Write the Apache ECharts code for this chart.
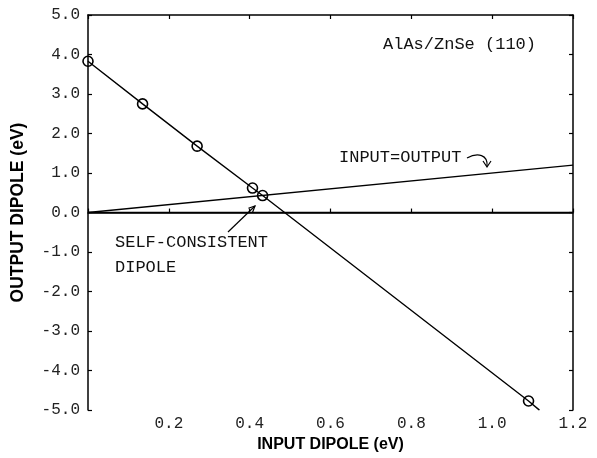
<!DOCTYPE html>
<html><head><meta charset="utf-8">
<script src="https://cdn.jsdelivr.net/npm/echarts@6/dist/echarts.min.js"></script>
<style>html,body{margin:0;padding:0;background:#fff}#c{width:597px;height:458px}</style>
</head><body><div id="c"></div>
<script>
// Data
const inputDipole  = [0.0, 0.135, 0.27, 0.407, 0.432, 1.09, 1.117];
const outputDipole = [3.83, 2.75, 1.68, 0.62, 0.43, -4.77, -5.0];
const markerShown  = [true, true, true, true, true, true, false];
const identityX = [0.0, 1.2];
const identityY = [0.0, 1.2];
const zeroX = [0.0, 1.2];
const zeroY = [0.0, 0.0];
const xTicks = [0.2, 0.4, 0.6, 0.8, 1.0, 1.2];
const yTicks = [5, 4, 3, 2, 1, 0, -1, -2, -3, -4, -5];

const mono = 'Liberation Mono';
const chart = echarts.init(document.getElementById('c'), null, {renderer: 'canvas'});
const axisLineStyle = {color: '#000', width: 1.5};
const tickStyle = {show: true, inside: true, length: 4, lineStyle: {color: '#000', width: 1.2}};

chart.setOption({
  animation: false,
  backgroundColor: '#fff',
  grid: {left: 88, right: 24, top: 15, bottom: 44, containLabel: false},
  xAxis: [{
    type: 'value', min: 0, max: 1.2, interval: 0.2, position: 'bottom',
    axisLine: {show: true, lineStyle: axisLineStyle}, axisTick: tickStyle, splitLine: {show: false},
    axisLabel: {margin: 6, fontFamily: mono, fontSize: 16, color: '#222',
      formatter: v => xTicks.some(t => Math.abs(t - v) < 1e-6) ? v.toFixed(1) : ''},
    name: 'INPUT DIPOLE (eV)', nameLocation: 'middle', nameGap: 15,
    nameTextStyle: {fontFamily: 'Liberation Sans', fontWeight: 'bold', fontSize: 16, color: '#000'}
  }, {
    type: 'value', min: 0, max: 1.2, interval: 0.2, position: 'top',
    axisLine: {show: true, onZero: false, lineStyle: axisLineStyle}, axisTick: tickStyle,
    axisLabel: {show: false}, splitLine: {show: false}
  }],
  yAxis: [{
    type: 'value', min: -5, max: 5, interval: 1, position: 'left',
    axisLine: {show: true, onZero: false, lineStyle: axisLineStyle}, axisTick: tickStyle, splitLine: {show: false},
    axisLabel: {margin: 8, fontFamily: mono, fontSize: 16, color: '#222',
      formatter: v => yTicks.includes(Math.round(v)) ? v.toFixed(1) : ''},
    name: 'OUTPUT DIPOLE (eV)', nameLocation: 'middle', nameGap: 61,
    nameTextStyle: {fontFamily: 'Liberation Sans', fontWeight: 'bold', fontSize: 17.5, color: '#000'}
  }, {
    type: 'value', min: -5, max: 5, interval: 1, position: 'right',
    axisLine: {show: true, onZero: false, lineStyle: axisLineStyle}, axisTick: tickStyle,
    axisLabel: {show: false}, splitLine: {show: false}
  }],
  series: [{
    type: 'line', xAxisIndex: 0, yAxisIndex: 0,
    data: inputDipole.map((x, i) => ({value: [x, outputDipole[i]], symbol: markerShown[i] ? 'circle' : 'none'})),
    symbolSize: 10, showAllSymbol: true,
    lineStyle: {color: '#000', width: 1.4},
    itemStyle: {color: 'rgba(0,0,0,0)', borderColor: '#000', borderWidth: 1.6},
    z: 3
  }, {
    type: 'line', xAxisIndex: 0, yAxisIndex: 0, symbol: 'none',
    data: identityX.map((x, i) => [x, identityY[i]]),
    lineStyle: {color: '#000', width: 1.4}
  }, {
    type: 'line', xAxisIndex: 0, yAxisIndex: 0, symbol: 'none',
    data: zeroX.map((x, i) => [x, zeroY[i]]),
    lineStyle: {color: '#000', width: 1.4}
  }],
  graphic: [
    {type: 'text', left: 383, top: 36, style: {text: 'AlAs/ZnSe (110)', font: '17px "Liberation Mono"', fill: '#111'}},
    {type: 'text', left: 339, top: 149, style: {text: 'INPUT=OUTPUT', font: '17px "Liberation Mono"', fill: '#111'}},
    {type: 'text', left: 115, top: 234, style: {text: 'SELF-CONSISTENT', font: '17px "Liberation Mono"', fill: '#111'}},
    {type: 'text', left: 115, top: 259, style: {text: 'DIPOLE', font: '17px "Liberation Mono"', fill: '#111'}},
    {type: 'line', shape: {x1: 228, y1: 232, x2: 255, y2: 206}, style: {stroke: '#000', lineWidth: 1.2}},
    {type: 'polyline', shape: {points: [[252.5, 212.5], [255, 206], [248.4, 208.3]]}, style: {stroke: '#000', lineWidth: 1.2, fill: null}},
    {type: 'bezierCurve', shape: {x1: 467, y1: 158, cpx1: 478, cpy1: 152, cpx2: 488, cpy2: 155, x2: 487, y2: 166}, style: {stroke: '#000', lineWidth: 1.2, fill: null}},
    {type: 'polyline', shape: {points: [[483, 161], [487, 167], [491, 161]]}, style: {stroke: '#000', lineWidth: 1.2, fill: null}}
  ]
});
</script></body></html>
